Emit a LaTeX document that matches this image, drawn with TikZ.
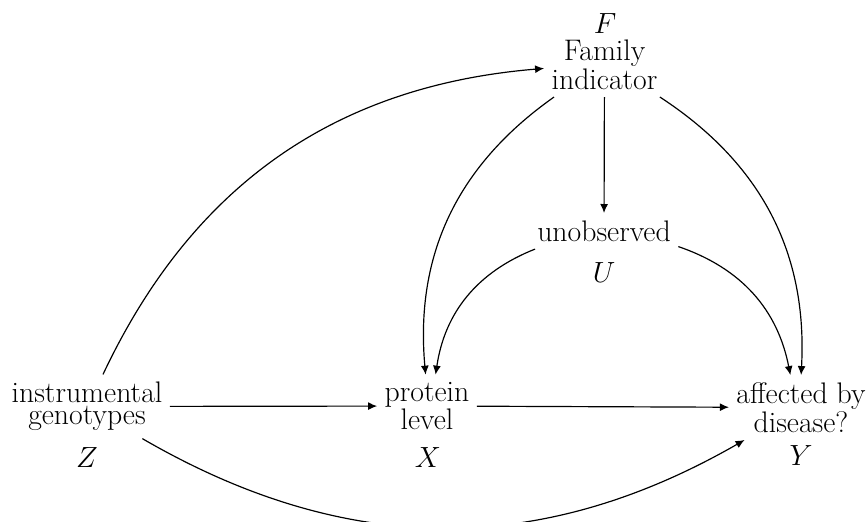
\documentclass[tikz,border=0pt]{standalone}
\usetikzlibrary{arrows.meta}
\begin{document}
\begin{tikzpicture}[x=0.5917pt,y=0.5917pt,
  txt/.style={font=\fontsize{17.6}{13.2}\selectfont, inner sep=4.3pt, align=center},
  lbl/.style={font=\fontsize{17.6}{13.2}\selectfont, inner sep=0pt, anchor=base},
  conn/.style={-{Latex[length=5.3pt,width=4.7pt]}, line width=0.7pt}]
\useasboundingbox (0,0) rectangle (867,-521);
% main nodes
\node[txt] (Z) at (87,-406.5) {instrumental\\genotypes};
\node[txt] (X) at (427,-406) {protein\\level};
\node[txt] (Y) at (801,-407.5) {affected by\\disease?};
\node[txt] (F) at (604.5,-64.8) {Family\\indicator};
\node[txt] (U) at (604,-231) {unobserved};
% variable labels
\node[lbl] (Zl) at (87,-467) {$Z$};
\node[lbl] (Xl) at (428,-467) {$X$};
\node[lbl] (Yl) at (801,-465) {$Y$};
\node[lbl] (Ul) at (604,-282) {$U$};
\node[lbl] (Fl) at (605,-33) {$F$};
% connectors
\draw[conn] (Z) to[bend left=30] (F);
\draw[conn] (Z) -- (X);
\draw[conn] (X) -- (Y);
\draw[conn] (Z) to[bend right=30] (Y);
\draw[conn] (F) -- (U);
\draw[conn] (F) to[bend right=30] (X);
\draw[conn] (F) to[bend left=30] (Y);
\draw[conn] (U) to[bend right=30] (X);
\draw[conn] (U) to[bend left=30] (Y);
\end{tikzpicture}
\end{document}
